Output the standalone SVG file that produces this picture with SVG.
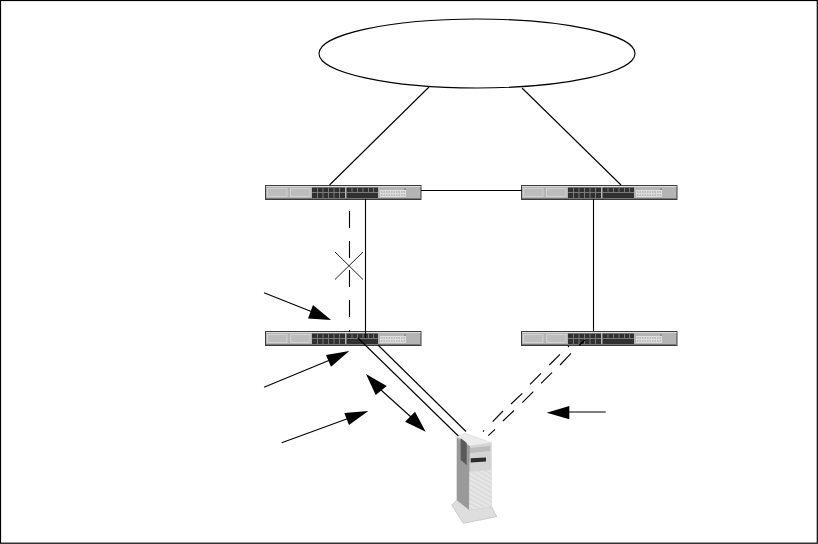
<svg xmlns="http://www.w3.org/2000/svg" width="818" height="544" viewBox="0 0 818 544">
<style>
.l{fill:none;stroke:#000;stroke-width:1.1}
.x{fill:none;stroke:#222;stroke-width:1}
.a{fill:#000;stroke:none}
</style>
<defs>
<pattern id="hatch" width="4" height="4" patternUnits="userSpaceOnUse" patternTransform="rotate(30)">
<rect width="4" height="4" fill="#e6e6e6"/><path d="M0 1H4" stroke="#d2d2d2"/>
</pattern>
<g id="sw">
<rect x="0.5" y="0.5" width="155.500" height="14" fill="#b4b4b4" stroke="#3c3c3c"/>
<rect x="1" y="1" width="154.500" height="1" fill="#dcdcdc"/>
<rect x="1" y="13" width="154.500" height="1" fill="#777"/>
<rect x="2.500" y="3.500" width="19.500" height="8" fill="#bdbdbd" stroke="#d8d8d8" stroke-width="0.8"/>
<rect x="25.500" y="3.500" width="19.500" height="8" fill="#bdbdbd" stroke="#d8d8d8" stroke-width="0.8"/>
<rect x="47" y="2.500" width="33" height="10.500" fill="#303030"/>
<rect x="81.500" y="2.500" width="31.500" height="10.500" fill="#303030"/>
<path d="M47 7.500H80M81.500 7.500H113M52.500 3V7M58 3V7M63.500 3V7M69 3V7M74.500 3V7M52.500 8V13M58 8V13M63.500 8V13M69 8V13M74.500 8V13M87 3V7M92.500 3V7M98 3V7M103.500 3V7M108.500 3V7" stroke="#8c8c8c" stroke-width="0.8" fill="none"/>
<rect x="115" y="5" width="26" height="7" fill="#dedede"/>
<path d="M116 7H141M116 10H141" stroke="#8f8f8f" stroke-width="0.9" stroke-dasharray="1.500 1"/>
<rect x="139.500" y="3.500" width="1" height="1" fill="#333"/>
</g>
</defs>
<rect x="0.5" y="0.5" width="816.800" height="542.700" fill="#fff" stroke="#000" stroke-width="1.200"/>
<g id="cloud"><ellipse cx="477" cy="53.500" rx="158" ry="34.500" fill="#fff" stroke="#000" stroke-width="1.100"/></g>
<g id="switch-1"><use href="#sw" x="265" y="185"/></g>
<g id="switch-2"><use href="#sw" x="521" y="185"/></g>
<g id="switch-3"><use href="#sw" x="265" y="331"/></g>
<g id="switch-4"><use href="#sw" x="521" y="331"/></g>
<g id="connectors">
<path class="l" d="M429 87L329.500 185"/>
<path class="l" d="M522 88L621 185"/>
<path class="l" d="M421 190.500H522"/>
<path class="l" d="M365.500 199V338"/>
<path class="l" d="M593.500 199V331"/>
<path class="l" d="M349.500 211V228M349.500 241V258M349.500 270V287M349.500 300V317M349.500 330V332"/>
<path class="x" d="M335 252L363 279.500M363 252L335 279.500"/>
<path class="l" d="M358 338L465 442.500"/>
<path class="l" d="M378 345L466 431.500"/>
<path class="l" d="M585 340L579 345.500M571 353.300L560 365M552 372.700L541 383.300M533.300 391.700L522.300 402.700M514 410.500L503 421M495 429.300L488.300 435.700"/>
<path class="l" d="M569 346L568 347M560 354.300L549.300 365M541 373.300L530 384.300M522.300 393.300L511 404M503 411L492.700 421.700M484 430.500L483 431.500"/>
<path class="l" d="M264 292.700L315 313"/>
<path class="a" d="M331 320L313 305L308 318.500Z"/>
<path class="l" d="M264 387.300L330 360"/>
<path class="a" d="M349.300 351L326 355L331 366.700Z"/>
<path class="l" d="M281.700 442.700L348 418.500"/>
<path class="a" d="M368.300 411L344.300 413L349 425Z"/>
<path class="l" d="M381 390L411 417"/>
<path class="a" d="M366 374L386.700 386L375.700 395Z"/>
<path class="a" d="M425.700 431.700L405 421.700L415 411.700Z"/>
<path class="l" d="M569 412H605.700"/>
<path class="a" d="M546.700 412.700L569.300 406V419.300Z"/>
</g>
<g id="server">
<path d="M451.700 505L456.700 500L469.300 510L491.700 506.700L496.700 516.700L463.300 523.300Z" fill="#dedede" stroke="#c4c4c4" stroke-width="0.8"/>
<path d="M456.700 436.700L470 446L469.300 510L456.700 500Z" fill="#9a9a9a"/>
<path d="M456.700 436.700L465 433.300L491.700 442.700L470 446Z" fill="#ececec" stroke="#d0d0d0" stroke-width="0.5"/>
<path d="M470 446L491.700 442.700V506.700L469.300 510Z" fill="#d4d4d4"/>
<path d="M470 448L490 446V451L470 453Z" fill="#bcbcbc"/>
<path d="M470.700 458.300L486 457.500V461.500L470.700 462.500Z" fill="#2c2c2c"/>
<path d="M469.500 471.700L491.700 470V506.700L469.500 510Z" fill="url(#hatch)"/>
<path d="M460.700 438L466.700 443V465L460.700 460Z" fill="#5a5a5a"/>
</g>
</svg>
